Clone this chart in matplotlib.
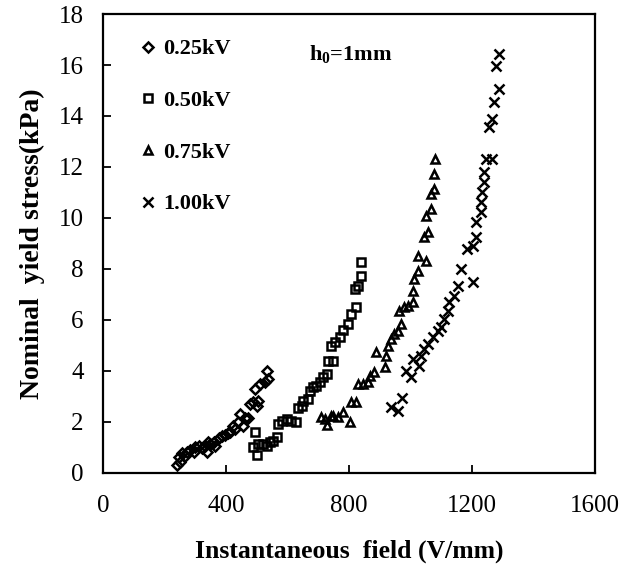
import matplotlib
matplotlib.use("Agg")
import matplotlib.pyplot as plt

plt.rcParams['font.family'] = ['Liberation Serif', 'DejaVu Serif']
plt.rcParams['mathtext.fontset'] = 'custom'
plt.rcParams['mathtext.rm'] = 'Liberation Serif'
plt.rcParams['mathtext.bf'] = 'Liberation Serif:bold'

# data (field in V/mm, stress in kPa)
field_025 = [241, 251, 246, 257, 268, 273, 284, 295, 300, 311, 322, 333, 338, 343, 349,
             360, 365, 376, 386, 397, 408, 414, 424, 430, 440, 446, 457, 462, 473, 478,
             489, 500, 505, 494, 511, 527, 538, 535]
stress_025 = [0.31, 0.44, 0.61, 0.78, 0.68, 0.84, 0.91, 0.81, 1.00, 1.07, 0.97, 1.07, 0.84, 1.23, 1.14,
              1.20, 1.05, 1.36, 1.44, 1.49, 1.57, 1.62, 1.83, 1.73, 1.99, 2.31, 1.86, 2.14, 2.14, 2.71,
              2.77, 2.64, 2.84, 3.29, 3.49, 3.56, 3.69, 4.01]

field_050 = [489, 494, 500, 505, 521, 532, 543, 554, 565, 570, 581, 597, 613, 629, 635,
             646, 651, 667, 673, 683, 694, 705, 716, 727, 732, 748, 743, 754, 770, 781,
             797, 808, 824, 818, 829, 840, 840]
stress_050 = [1.00, 1.59, 0.71, 1.14, 1.14, 1.07, 1.20, 1.27, 1.40, 1.92, 2.05, 2.12, 2.05, 1.99, 2.55,
              2.64, 2.84, 2.90, 3.23, 3.36, 3.42, 3.56, 3.75, 3.88, 4.40, 4.40, 4.99, 5.12, 5.32, 5.60,
              5.84, 6.24, 6.50, 7.22, 7.35, 7.74, 8.26]

field_075 = [710, 727, 721, 740, 748, 764, 781, 802, 808, 824, 829, 845, 862, 867, 883,
             888, 916, 921, 926, 937, 948, 959, 969, 964, 980, 991, 1007, 1007, 1013, 1023,
             1023, 1050, 1045, 1056, 1050, 1067, 1067, 1077, 1077, 1080]
stress_075 = [2.18, 1.90, 2.12, 2.22, 2.25, 2.18, 2.38, 1.99, 2.77, 2.77, 3.49, 3.49, 3.56, 3.82, 3.95,
              4.73, 4.15, 4.60, 4.99, 5.25, 5.45, 5.58, 5.84, 6.36, 6.50, 6.56, 6.69, 7.15, 7.61, 7.93,
              8.52, 8.33, 9.24, 9.44, 10.09, 10.35, 10.94, 11.14, 11.73, 12.31]

field_100 = [937, 959, 972, 986, 1002, 1007, 1029, 1034, 1045, 1056, 1072, 1088, 1099, 1110, 1121,
             1126, 1142, 1153, 1164, 1202, 1185, 1202, 1212, 1212, 1229, 1229, 1234, 1240, 1240, 1245,
             1266, 1256, 1266, 1272, 1288, 1277, 1288]
stress_100 = [2.60, 2.44, 2.95, 4.01, 3.75, 4.47, 4.21, 4.60, 4.86, 5.06, 5.32, 5.58, 5.71, 6.04, 6.36,
              6.69, 6.95, 7.35, 8.00, 7.48, 8.78, 8.91, 9.24, 9.83, 10.22, 10.61, 11.00, 11.40, 11.79, 12.31,
              12.31, 13.56, 13.88, 14.54, 15.06, 15.97, 16.43]

labels = ['0.25kV', '0.50kV', '0.75kV', '1.00kV']
x_ticks = [0, 400, 800, 1200, 1600]
y_ticks = [0, 2, 4, 6, 8, 10, 12, 14, 16, 18]

fig = plt.figure(figsize=(6.24, 5.74), dpi=100)
ax = fig.add_axes([0.165, 0.176, 0.7885, 0.7996])

ax.plot(field_025, stress_025, 'D', ms=4.8, mfc='none', mec='black', mew=1.8, ls='none', label=labels[0])
ax.plot(field_050, stress_050, 's', ms=5.8, mfc='none', mec='black', mew=1.8, ls='none', label=labels[1])
ax.plot(field_075, stress_075, '^', ms=6.3, mfc='none', mec='black', mew=1.8, ls='none', label=labels[2])
ax.plot(field_100, stress_100, 'x', ms=7, mec='black', mew=1.8, ls='none', label=labels[3])

ax.set_xlim(0, 1600)
ax.set_ylim(0, 18)
ax.set_xticks(x_ticks)
ax.set_yticks(y_ticks)
ax.tick_params(direction='in', length=6, width=1.3, labelsize=18)
ax.tick_params(axis='x', pad=16)
ax.tick_params(axis='y', pad=14)
for s in ax.spines.values():
    s.set_linewidth(1.6)

ax.set_xlabel('Instantaneous  field (V/mm)', fontsize=18.5, fontweight='bold', labelpad=16)
ax.set_ylabel('Nominal  yield stress(kPa)', fontsize=20, fontweight='bold', labelpad=10)

ax.legend(loc='upper left', bbox_to_anchor=(0.069, 0.946), frameon=False,
          prop={'family': 'Liberation Serif', 'weight': 'bold', 'size': 16},
          handlelength=1.0, handletextpad=0.2, labelspacing=1.4,
          borderpad=0, borderaxespad=0)

ax.text(0.419, 0.911, r'h$_\mathbf{0}$=1mm', transform=ax.transAxes,
        fontsize=16, fontweight='bold', va='center', ha='left')

fig.savefig('out.png', dpi=100)
